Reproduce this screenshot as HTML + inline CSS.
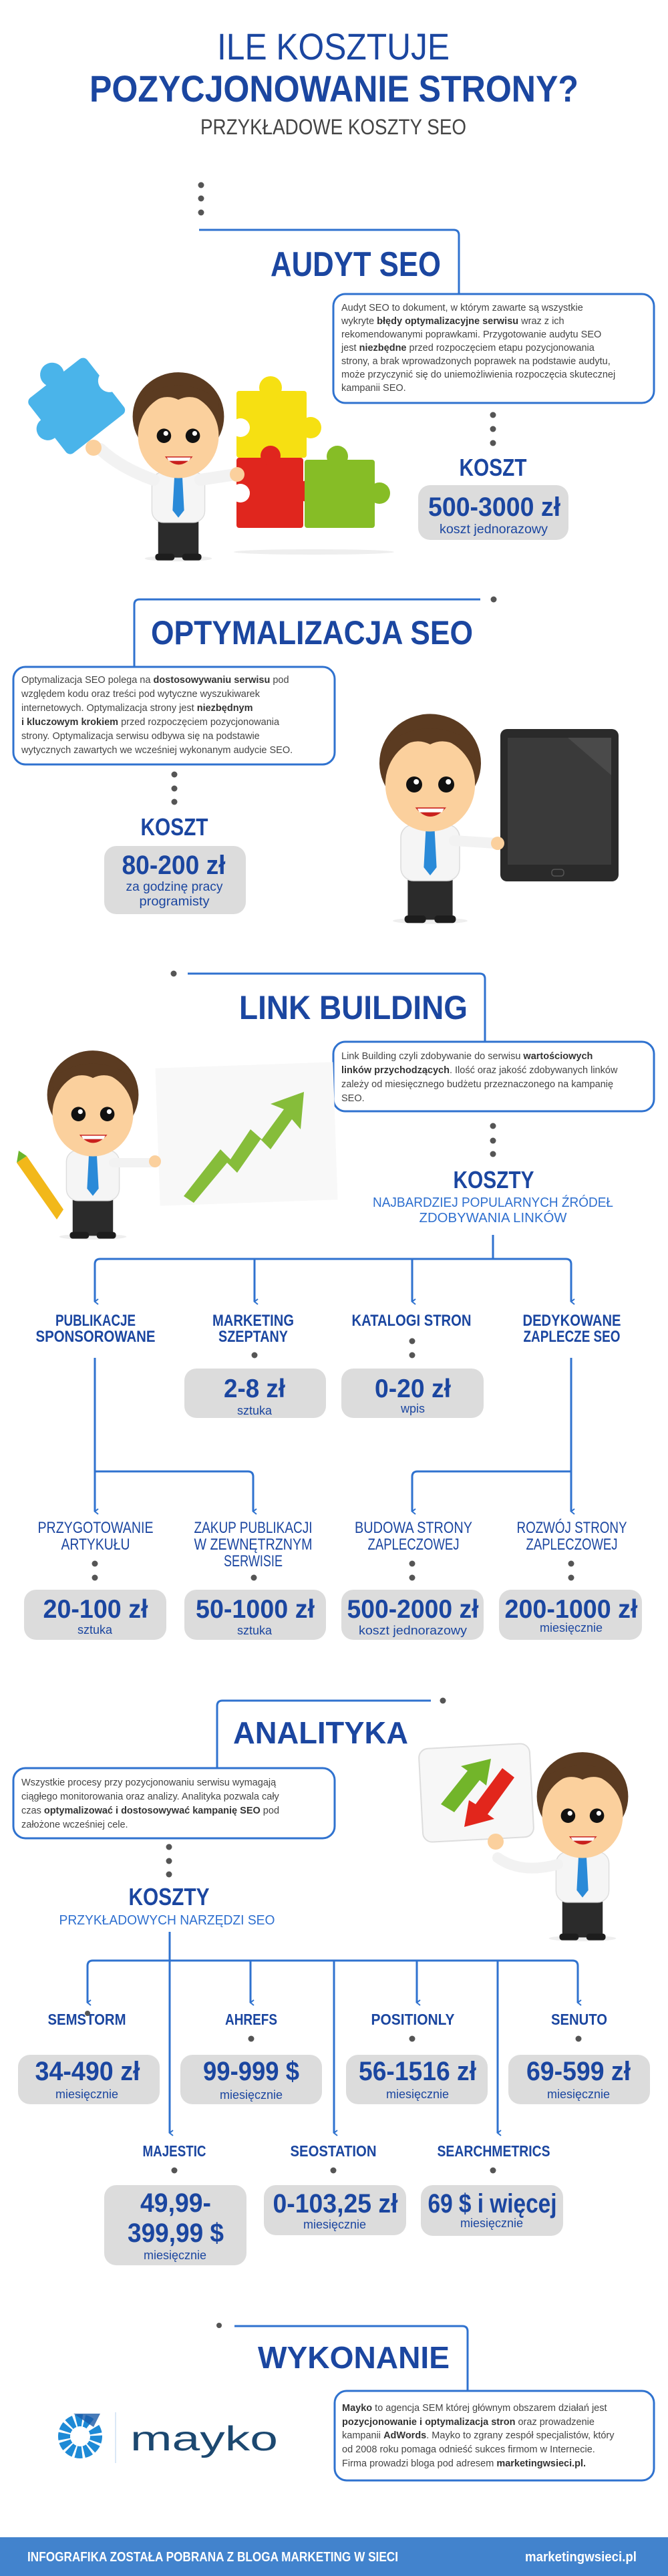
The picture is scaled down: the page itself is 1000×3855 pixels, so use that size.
<!DOCTYPE html>
<html><head><meta charset="utf-8"><style>
html,body{margin:0;padding:0;background:#fff}
svg{display:block}
text{font-family:"Liberation Sans",sans-serif}
.h{fill:#1b46a0;font-weight:bold}
.p{fill:#444;font-size:14.5px}
.pb{font-weight:bold;fill:#333}
.lt{fill:#1b46a0}
.ln{fill:none;stroke:#2f72cf;stroke-width:3}
.gb{fill:#dcdcdc}
.bx{fill:#fff;stroke:#2f72cf;stroke-width:3}
.d{fill:#555}
</style></head><body>
<svg width="1000" height="3855" viewBox="0 0 1000 3855" xmlns="http://www.w3.org/2000/svg">
<defs>
<marker id="ar" markerWidth="10" markerHeight="10" refX="5" refY="7" orient="auto" markerUnits="userSpaceOnUse">
<path d="M1,2 L5,7 L9,2" fill="none" stroke="#2f72cf" stroke-width="2"/>
</marker>
<g id="guy">
<ellipse cx="100" cy="390" rx="70" ry="6" fill="#eee"/>
<rect x="58" y="300" width="84" height="88" rx="6" fill="#2b2b2b"/>
<rect x="52" y="380" width="40" height="14" rx="6" fill="#1d1d1d"/>
<rect x="108" y="380" width="40" height="14" rx="6" fill="#1d1d1d"/>
<rect x="45" y="210" width="110" height="105" rx="24" fill="#f5f5f5" stroke="#ddd" stroke-width="2"/>
<polygon points="92,215 108,215 112,290 100,305 88,290" fill="#2a8ad8"/>
<ellipse cx="100" cy="95" rx="95" ry="92" fill="#5b3b21"/>
<ellipse cx="100" cy="135" rx="84" ry="88" fill="#fbd09d"/>
<path d="M20,90 Q60,40 100,60 Q140,40 182,90 L185,60 Q100,0 15,60 Z" fill="#5b3b21"/>
<circle cx="70" cy="135" r="15" fill="#111"/><circle cx="130" cy="135" r="15" fill="#111"/>
<circle cx="74" cy="130" r="5" fill="#fff"/><circle cx="134" cy="130" r="5" fill="#fff"/>
<path d="M72,178 Q100,212 130,178 Z" fill="#c9201d"/>
<path d="M76,180 L126,180 L122,187 L80,187 Z" fill="#fff"/>
</g>
</defs>

<!-- Title -->
<text x="499" y="89" text-anchor="middle" font-size="56" fill="#1b46a0" textLength="348" lengthAdjust="spacingAndGlyphs">ILE KOSZTUJE</text>
<text x="500" y="152" text-anchor="middle" font-size="56" class="h" textLength="732" lengthAdjust="spacingAndGlyphs">POZYCJONOWANIE STRONY?</text>
<text x="499" y="201" text-anchor="middle" font-size="32" fill="#444" textLength="398" lengthAdjust="spacingAndGlyphs">PRZYKŁADOWE KOSZTY SEO</text>

<!-- AUDYT -->
<circle class="d" cx="301" cy="277" r="4.5"/><circle class="d" cx="301" cy="297" r="4.5"/><circle class="d" cx="301" cy="318" r="4.5"/>
<path class="ln" d="M298,344 H679 Q687,344 687,352 V440"/>
<text x="405" y="413" font-size="52" class="h" textLength="255" lengthAdjust="spacingAndGlyphs">AUDYT SEO</text>
<rect class="bx" x="499" y="440" width="480" height="163" rx="18"/>
<text class="p"><tspan x="511" y="465">Audyt SEO to dokument, w którym zawarte są wszystkie</tspan><tspan x="511" y="485">wykryte <tspan class="pb">błędy optymalizacyjne serwisu</tspan> wraz z ich</tspan><tspan x="511" y="505">rekomendowanymi poprawkami. Przygotowanie audytu SEO</tspan><tspan x="511" y="525">jest <tspan class="pb">niezbędne</tspan> przed rozpoczęciem etapu pozycjonowania</tspan><tspan x="511" y="545">strony, a brak wprowadzonych poprawek na podstawie audytu,</tspan><tspan x="511" y="565">może przyczynić się do uniemożliwienia rozpoczęcia skutecznej</tspan><tspan x="511" y="585">kampanii SEO.</tspan></text>
<circle class="d" cx="738" cy="621" r="4.5"/><circle class="d" cx="738" cy="642" r="4.5"/><circle class="d" cx="738" cy="663" r="4.5"/>
<text x="738" y="712" text-anchor="middle" font-size="36" class="h" textLength="101" lengthAdjust="spacingAndGlyphs">KOSZT</text>
<rect class="gb" x="626" y="726" width="225" height="82" rx="18"/>
<text x="740" y="772" text-anchor="middle" font-size="40" class="h" textLength="198" lengthAdjust="spacingAndGlyphs">500-3000 zł</text>
<text x="739" y="798" text-anchor="middle" font-size="19" class="lt" textLength="162" lengthAdjust="spacingAndGlyphs">koszt jednorazowy</text>
<!-- puzzle illustration -->
<ellipse cx="470" cy="826" rx="120" ry="4" fill="#eee"/>
<g transform="rotate(-38 115 608)"><rect x="60" y="555" width="110" height="105" rx="8" fill="#4ab4ea"/><circle cx="115" cy="548" r="18" fill="#4ab4ea"/><circle cx="177" cy="608" r="17" fill="#fff"/><circle cx="60" cy="608" r="17" fill="#4ab4ea"/></g>
<rect x="354" y="585" width="105" height="100" rx="4" fill="#f6e012"/><circle cx="405" cy="580" r="17" fill="#f6e012"/><circle cx="465" cy="640" r="16" fill="#f6e012"/><circle cx="360" cy="640" r="14" fill="#fff"/>
<rect x="354" y="685" width="100" height="105" rx="4" fill="#e0261e"/><circle cx="405" cy="682" r="15" fill="#e0261e"/><circle cx="460" cy="735" r="16" fill="#e0261e"/><circle cx="360" cy="738" r="14" fill="#fff"/>
<rect x="456" y="688" width="105" height="102" rx="4" fill="#86bd26"/><circle cx="505" cy="683" r="16" fill="#86bd26"/><circle cx="568" cy="738" r="16" fill="#86bd26"/>
<use href="#guy" transform="translate(195,555) scale(0.72)"/>
<path d="M230,718 Q180,700 150,672" stroke="#f2f2f2" stroke-width="18" fill="none" stroke-linecap="round"/>
<circle cx="140" cy="670" r="12" fill="#fbd09d"/>
<path d="M300,718 L352,710" stroke="#f2f2f2" stroke-width="18" fill="none" stroke-linecap="round"/>
<circle cx="355" cy="710" r="11" fill="#fbd09d"/>

<!-- OPTYMALIZACJA -->
<circle class="d" cx="739" cy="897" r="4.5"/>
<path class="ln" d="M719,897 H209 Q201,897 201,905 V998"/>
<text x="226" y="964" font-size="50" class="h" textLength="482" lengthAdjust="spacingAndGlyphs">OPTYMALIZACJA SEO</text>
<rect class="bx" x="20" y="998" width="481" height="146" rx="18"/>
<text class="p" font-size="15"><tspan x="32" y="1022">Optymalizacja SEO polega na <tspan class="pb">dostosowywaniu serwisu</tspan> pod</tspan><tspan x="32" y="1043">względem kodu oraz treści pod wytyczne wyszukiwarek</tspan><tspan x="32" y="1064">internetowych. Optymalizacja strony jest <tspan class="pb">niezbędnym</tspan></tspan><tspan x="32" y="1085"><tspan class="pb">i kluczowym krokiem</tspan> przed rozpoczęciem pozycjonowania</tspan><tspan x="32" y="1106">strony. Optymalizacja serwisu odbywa się na podstawie</tspan><tspan x="32" y="1127">wytycznych zawartych we wcześniej wykonanym audycie SEO.</tspan></text>
<circle class="d" cx="261" cy="1159" r="4.5"/><circle class="d" cx="261" cy="1180" r="4.5"/><circle class="d" cx="261" cy="1200" r="4.5"/>
<text x="261" y="1250" text-anchor="middle" font-size="36" class="h" textLength="101" lengthAdjust="spacingAndGlyphs">KOSZT</text>
<rect class="gb" x="156" y="1266" width="212" height="102" rx="18"/>
<text x="260" y="1308" text-anchor="middle" font-size="40" class="h" textLength="155" lengthAdjust="spacingAndGlyphs">80-200 zł</text>
<text x="261" y="1333" text-anchor="middle" font-size="19" class="lt" textLength="145" lengthAdjust="spacingAndGlyphs">za godzinę pracy</text>
<text x="261" y="1355" text-anchor="middle" font-size="19" class="lt" textLength="105" lengthAdjust="spacingAndGlyphs">programisty</text>
<use href="#guy" transform="translate(564,1066) scale(0.8)"/>
<rect x="749" y="1091" width="177" height="228" rx="10" fill="#2a2a2a"/>
<rect x="760" y="1104" width="155" height="190" fill="#3a3a3a"/>
<path d="M850,1104 L915,1104 L915,1160 Z" fill="#4a4a4a"/>
<rect x="826" y="1301" width="18" height="10" rx="4" fill="none" stroke="#555" stroke-width="1.5"/>
<path d="M680,1258 L742,1262" stroke="#f2f2f2" stroke-width="16" stroke-linecap="round"/>
<circle cx="745" cy="1262" r="10" fill="#fbd09d"/>

<!-- LINK BUILDING -->
<circle class="d" cx="260" cy="1457" r="4.5"/>
<path class="ln" d="M281,1457 H718 Q726,1457 726,1465 V1559"/>
<text x="358" y="1525" font-size="50" class="h" textLength="342" lengthAdjust="spacingAndGlyphs">LINK BUILDING</text>
<rect class="bx" x="499" y="1559" width="480" height="104" rx="18"/>
<text class="p"><tspan x="511" y="1585">Link Building czyli zdobywanie do serwisu <tspan class="pb">wartościowych</tspan></tspan><tspan x="511" y="1606"><tspan class="pb">linków przychodzących</tspan>. Ilość oraz jakość zdobywanych linków</tspan><tspan x="511" y="1627">zależy od miesięcznego budżetu przeznaczonego na kampanię</tspan><tspan x="511" y="1648">SEO.</tspan></text>
<circle class="d" cx="738" cy="1685" r="4.5"/><circle class="d" cx="738" cy="1707" r="4.5"/><circle class="d" cx="738" cy="1727" r="4.5"/>
<text x="739" y="1778" text-anchor="middle" font-size="36" class="h" textLength="121" lengthAdjust="spacingAndGlyphs">KOSZTY</text>
<text x="738" y="1806" text-anchor="middle" font-size="20" fill="#2e6fcf" textLength="360" lengthAdjust="spacingAndGlyphs">NAJBARDZIEJ POPULARNYCH ŹRÓDEŁ</text>
<text x="738" y="1829" text-anchor="middle" font-size="20" fill="#2e6fcf" textLength="221" lengthAdjust="spacingAndGlyphs">ZDOBYWANIA LINKÓW</text>
<!-- chart illustration -->
<rect x="236" y="1594" width="266" height="206" fill="#f8f8f8" transform="rotate(-2 369 1697)"/>
<path d="M275,1790 L330,1720 L345,1735 L375,1690 L392,1705 L425,1660 L405,1652 L455,1634 L450,1690 L437,1675 L405,1720 L390,1705 L355,1755 L340,1740 L290,1800 Z" fill="#86bd3a"/>
<use href="#guy" transform="translate(67,1570) scale(0.72)"/>
<polygon points="25,1740 40,1730 95,1810 85,1825" fill="#f2b81a"/>
<polygon points="25,1740 40,1730 28,1722" fill="#6ab42a"/>
<path d="M170,1740 L228,1740" stroke="#f2f2f2" stroke-width="14" stroke-linecap="round"/>
<circle cx="232" cy="1738" r="9" fill="#fbd09d"/>

<!-- LB tree -->
<g class="ln">
<path d="M738,1848 V1884"/>
<path d="M142,1948 V1892 Q142,1884 150,1884 H847 Q855,1884 855,1892 V1948" marker-end="url(#ar)"/>
<path d="M142,1900 V1948" marker-end="url(#ar)"/>
<path d="M381,1884 V1948" marker-end="url(#ar)"/>
<path d="M617,1884 V1948" marker-end="url(#ar)"/>
<path d="M142,2032 V2262" marker-end="url(#ar)"/>
<path d="M142,2202 H371 Q379,2202 379,2210 V2262" marker-end="url(#ar)"/>
<path d="M855,2032 V2262" marker-end="url(#ar)"/>
<path d="M855,2202 H625 Q617,2202 617,2210 V2262" marker-end="url(#ar)"/>
</g>
<g class="h" font-size="24" text-anchor="middle">
<text x="143" y="1984" textLength="120" lengthAdjust="spacingAndGlyphs">PUBLIKACJE</text>
<text x="143" y="2008" textLength="179" lengthAdjust="spacingAndGlyphs">SPONSOROWANE</text>
<text x="379" y="1984" textLength="122" lengthAdjust="spacingAndGlyphs">MARKETING</text>
<text x="379" y="2008" textLength="104" lengthAdjust="spacingAndGlyphs">SZEPTANY</text>
<text x="616" y="1984" textLength="179" lengthAdjust="spacingAndGlyphs">KATALOGI STRON</text>
<text x="856" y="1984" textLength="147" lengthAdjust="spacingAndGlyphs">DEDYKOWANE</text>
<text x="856" y="2008" textLength="145" lengthAdjust="spacingAndGlyphs">ZAPLECZE SEO</text>
</g>
<circle class="d" cx="381" cy="2028" r="4.5"/>
<circle class="d" cx="617" cy="2007" r="4.5"/><circle class="d" cx="617" cy="2028" r="4.5"/>
<rect class="gb" x="276" y="2048" width="212" height="74" rx="18"/>
<rect class="gb" x="511" y="2048" width="213" height="74" rx="18"/>
<text x="381" y="2091" text-anchor="middle" font-size="39" class="h" textLength="92" lengthAdjust="spacingAndGlyphs">2-8 zł</text>
<text x="381" y="2117" text-anchor="middle" font-size="18" class="lt">sztuka</text>
<text x="618" y="2091" text-anchor="middle" font-size="39" class="h" textLength="114" lengthAdjust="spacingAndGlyphs">0-20 zł</text>
<text x="618" y="2114" text-anchor="middle" font-size="18" class="lt">wpis</text>
<g class="lt" font-size="24" text-anchor="middle">
<text x="143" y="2294" textLength="173" lengthAdjust="spacingAndGlyphs">PRZYGOTOWANIE</text>
<text x="143" y="2319" textLength="103" lengthAdjust="spacingAndGlyphs">ARTYKUŁU</text>
<text x="379" y="2294" textLength="177" lengthAdjust="spacingAndGlyphs">ZAKUP PUBLIKACJI</text>
<text x="379" y="2319" textLength="177" lengthAdjust="spacingAndGlyphs">W ZEWNĘTRZNYM</text>
<text x="379" y="2344" textLength="88" lengthAdjust="spacingAndGlyphs">SERWISIE</text>
<text x="619" y="2294" textLength="176" lengthAdjust="spacingAndGlyphs">BUDOWA STRONY</text>
<text x="619" y="2319" textLength="137" lengthAdjust="spacingAndGlyphs">ZAPLECZOWEJ</text>
<text x="856" y="2294" textLength="165" lengthAdjust="spacingAndGlyphs">ROZWÓJ STRONY</text>
<text x="856" y="2319" textLength="137" lengthAdjust="spacingAndGlyphs">ZAPLECZOWEJ</text>
</g>
<circle class="d" cx="142" cy="2340" r="4.5"/><circle class="d" cx="142" cy="2361" r="4.5"/>
<circle class="d" cx="380" cy="2361" r="4.5"/>
<circle class="d" cx="617" cy="2340" r="4.5"/><circle class="d" cx="617" cy="2361" r="4.5"/>
<circle class="d" cx="855" cy="2340" r="4.5"/><circle class="d" cx="855" cy="2361" r="4.5"/>
<rect class="gb" x="36" y="2379" width="213" height="75" rx="18"/>
<rect class="gb" x="276" y="2379" width="212" height="75" rx="18"/>
<rect class="gb" x="511" y="2379" width="213" height="75" rx="18"/>
<rect class="gb" x="747" y="2379" width="214" height="75" rx="18"/>
<g class="h" font-size="39" text-anchor="middle">
<text x="143" y="2421" textLength="157" lengthAdjust="spacingAndGlyphs">20-100 zł</text>
<text x="382" y="2421" textLength="178" lengthAdjust="spacingAndGlyphs">50-1000 zł</text>
<text x="618" y="2421" textLength="197" lengthAdjust="spacingAndGlyphs">500-2000 zł</text>
<text x="855" y="2421" textLength="199" lengthAdjust="spacingAndGlyphs">200-1000 zł</text>
</g>
<g class="lt" font-size="18" text-anchor="middle">
<text x="142" y="2445">sztuka</text>
<text x="381" y="2446">sztuka</text>
<text x="618" y="2446" textLength="162" lengthAdjust="spacingAndGlyphs">koszt jednorazowy</text>
<text x="855" y="2442">miesięcznie</text>
</g>

<!-- ANALITYKA -->
<circle class="d" cx="663" cy="2545" r="4.5"/>
<path class="ln" d="M645,2545 H333 Q325,2545 325,2553 V2646"/>
<text x="349" y="2609" font-size="46" class="h" textLength="262" lengthAdjust="spacingAndGlyphs">ANALITYKA</text>
<rect class="bx" x="20" y="2646" width="481" height="105" rx="18"/>
<text class="p" font-size="15"><tspan x="32" y="2672">Wszystkie procesy przy pozycjonowaniu serwisu wymagają</tspan><tspan x="32" y="2693">ciągłego monitorowania oraz analizy. Analityka pozwala cały</tspan><tspan x="32" y="2714">czas <tspan class="pb">optymalizować i dostosowywać kampanię SEO</tspan> pod</tspan><tspan x="32" y="2735">założone wcześniej cele.</tspan></text>
<circle class="d" cx="253" cy="2764" r="4.5"/><circle class="d" cx="253" cy="2785" r="4.5"/><circle class="d" cx="253" cy="2805" r="4.5"/>
<text x="253" y="2851" text-anchor="middle" font-size="36" class="h" textLength="121" lengthAdjust="spacingAndGlyphs">KOSZTY</text>
<text x="250" y="2880" text-anchor="middle" font-size="20" fill="#2e6fcf" textLength="323" lengthAdjust="spacingAndGlyphs">PRZYKŁADOWYCH NARZĘDZI SEO</text>
<!-- card illustration -->
<rect x="630" y="2613" width="166" height="140" rx="14" fill="#f7f7f7" stroke="#ddd" stroke-width="2" transform="rotate(-3 713 2683)"/>
<path d="M660,2700 L700,2650 L690,2643 L735,2632 L728,2672 L718,2664 L680,2712 Z" fill="#72b52a"/>
<path d="M770,2660 L730,2715 L740,2722 L695,2734 L702,2694 L712,2700 L752,2646 Z" fill="#e2261c"/>
<use href="#guy" transform="translate(800,2620) scale(0.72)"/>
<path d="M745,2780 Q780,2805 835,2790" stroke="#f2f2f2" stroke-width="16" fill="none" stroke-linecap="round"/>
<circle cx="742" cy="2756" r="12" fill="#fbd09d"/>

<!-- Analityka tree -->
<g class="ln">
<path d="M254,2891 V3192" marker-end="url(#ar)"/>
<path d="M131,2997 V2942 Q131,2934 139,2934 H857 Q865,2934 865,2942 V2997" marker-end="url(#ar)"/>
<path d="M131,2950 V2997" marker-end="url(#ar)"/>
<path d="M375,2934 V2997" marker-end="url(#ar)"/>
<path d="M624,2934 V2997" marker-end="url(#ar)"/>
<path d="M500,2934 V3192" marker-end="url(#ar)"/>
<path d="M745,2934 V3192" marker-end="url(#ar)"/>
</g>
<g class="h" font-size="23" text-anchor="middle">
<text x="130" y="3030" textLength="117" lengthAdjust="spacingAndGlyphs">SEMSTORM</text>
<text x="376" y="3030" textLength="78" lengthAdjust="spacingAndGlyphs">AHREFS</text>
<text x="618" y="3030" textLength="125" lengthAdjust="spacingAndGlyphs">POSITIONLY</text>
<text x="867" y="3030" textLength="84" lengthAdjust="spacingAndGlyphs">SENUTO</text>
<text x="261" y="3227" textLength="95" lengthAdjust="spacingAndGlyphs">MAJESTIC</text>
<text x="499" y="3227" textLength="129" lengthAdjust="spacingAndGlyphs">SEOSTATION</text>
<text x="739" y="3227" textLength="169" lengthAdjust="spacingAndGlyphs">SEARCHMETRICS</text>
</g>
<circle class="d" cx="131" cy="3013" r="4"/>
<circle class="d" cx="376" cy="3051" r="4.5"/><circle class="d" cx="617" cy="3051" r="4.5"/><circle class="d" cx="866" cy="3051" r="4.5"/>
<rect class="gb" x="27" y="3075" width="212" height="74" rx="18"/>
<rect class="gb" x="270" y="3075" width="212" height="74" rx="18"/>
<rect class="gb" x="518" y="3075" width="212" height="74" rx="18"/>
<rect class="gb" x="761" y="3075" width="212" height="74" rx="18"/>
<g class="h" font-size="40" text-anchor="middle">
<text x="131" y="3113" textLength="157" lengthAdjust="spacingAndGlyphs">34-490 zł</text>
<text x="376" y="3113" textLength="144" lengthAdjust="spacingAndGlyphs">99-999 $</text>
<text x="625" y="3113" textLength="176" lengthAdjust="spacingAndGlyphs">56-1516 zł</text>
<text x="866" y="3113" textLength="156" lengthAdjust="spacingAndGlyphs">69-599 zł</text>
</g>
<g class="lt" font-size="18" text-anchor="middle">
<text x="130" y="3140">miesięcznie</text>
<text x="376" y="3141">miesięcznie</text>
<text x="625" y="3140">miesięcznie</text>
<text x="866" y="3140">miesięcznie</text>
</g>
<circle class="d" cx="261" cy="3248" r="4.5"/><circle class="d" cx="499" cy="3248" r="4.5"/><circle class="d" cx="738" cy="3248" r="4.5"/>
<rect class="gb" x="156" y="3270" width="213" height="120" rx="18"/>
<rect class="gb" x="395" y="3270" width="213" height="75" rx="18"/>
<rect class="gb" x="630" y="3270" width="213" height="76" rx="18"/>
<g class="h" font-size="40" text-anchor="middle">
<text x="263" y="3310" textLength="106" lengthAdjust="spacingAndGlyphs">49,99-</text>
<text x="263" y="3355" textLength="144" lengthAdjust="spacingAndGlyphs">399,99 $</text>
<text x="502" y="3311" textLength="187" lengthAdjust="spacingAndGlyphs">0-103,25 zł</text>
<text x="737" y="3311" textLength="193" lengthAdjust="spacingAndGlyphs">69 $ i więcej</text>
</g>
<g class="lt" font-size="18" text-anchor="middle">
<text x="262" y="3381">miesięcznie</text>
<text x="501" y="3335">miesięcznie</text>
<text x="736" y="3333">miesięcznie</text>
</g>

<!-- WYKONANIE -->
<circle class="d" cx="328" cy="3480" r="4"/>
<path class="ln" d="M351,3481 H692 Q700,3481 700,3489 V3578"/>
<text x="386" y="3544" font-size="46" class="h" textLength="287" lengthAdjust="spacingAndGlyphs">WYKONANIE</text>
<rect class="bx" x="501" y="3578" width="478" height="134" rx="18"/>
<text class="p"><tspan x="512" y="3608"><tspan class="pb">Mayko</tspan> to agencja SEM której głównym obszarem działań jest</tspan><tspan x="512" y="3629"><tspan class="pb">pozycjonowanie i optymalizacja stron</tspan> oraz prowadzenie</tspan><tspan x="512" y="3649">kampanii <tspan class="pb">AdWords</tspan>. Mayko to zgrany zespół specjalistów, który</tspan><tspan x="512" y="3670">od 2008 roku pomaga odnieść sukces firmom w Internecie.</tspan><tspan x="512" y="3691">Firma prowadzi bloga pod adresem <tspan class="pb">marketingwsieci.pl.</tspan></tspan></text>
<!-- mayko logo -->
<circle cx="120" cy="3646" r="24" fill="none" stroke="#1e8ad6" stroke-width="18" stroke-dasharray="9 3" transform="rotate(-60 120 3646)"/>
<path d="M120,3646 L160,3618 L150,3608 Z" fill="#fff"/>
<path d="M110,3612 L150,3612 L140,3632 Z" fill="#1a5aa8" opacity="0.8"/>
<line x1="173" y1="3610" x2="173" y2="3686" stroke="#cfe0f2" stroke-width="1.5"/>
<text x="195" y="3667" font-family="Liberation Mono, monospace" font-size="52" fill="#1c4870" textLength="221" lengthAdjust="spacingAndGlyphs">mayko</text>

<!-- footer -->
<rect x="0" y="3797" width="1000" height="58" fill="#4283cd"/>
<text x="41" y="3833" font-size="20" font-weight="bold" fill="#fff" textLength="555" lengthAdjust="spacingAndGlyphs">INFOGRAFIKA ZOSTAŁA POBRANA Z BLOGA MARKETING W SIECI</text>
<text x="786" y="3833" font-size="20" font-weight="bold" fill="#fff" textLength="167" lengthAdjust="spacingAndGlyphs">marketingwsieci.pl</text>
</svg>
</body></html>
